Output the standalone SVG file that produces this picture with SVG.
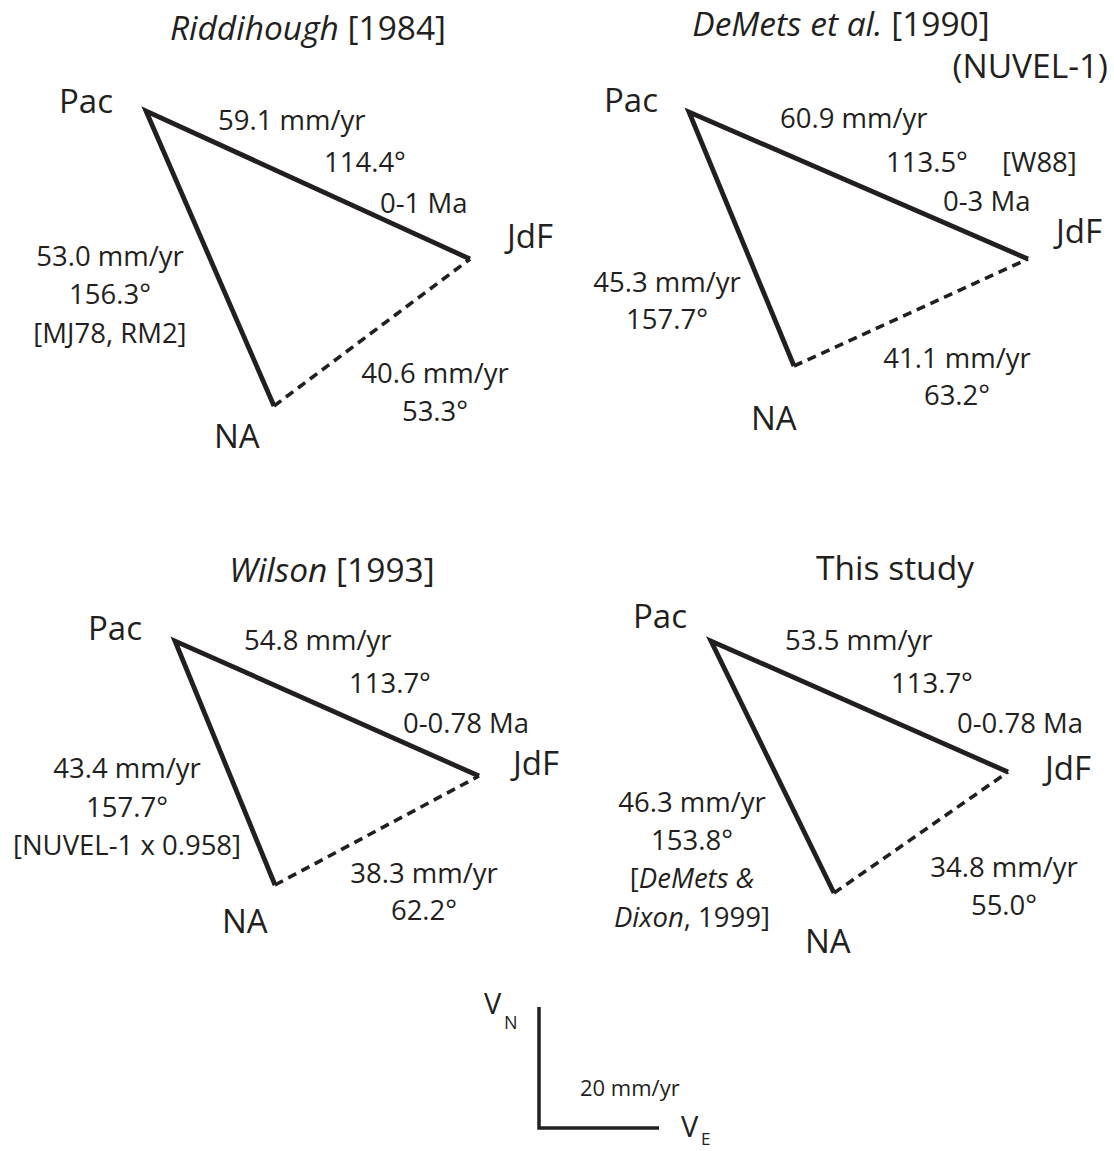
<svg xmlns="http://www.w3.org/2000/svg" width="1114" height="1151" viewBox="0 0 1114 1151">
<style>
text{font-family:"Open Sans","Liberation Sans",sans-serif;fill:#231f20}
.t{font-size:33.5px}
.n{font-size:33px}
.l{font-size:27.5px}
.m{text-anchor:middle}
.it{font-style:italic}
.s{fill:none;stroke:#231f20;stroke-width:4.8;stroke-linejoin:miter;stroke-linecap:butt}
.d{fill:none;stroke:#231f20;stroke-width:3.6;stroke-dasharray:9 6}
</style>
<rect width="1114" height="1151" fill="#fff"/>
<g id="connectors">
<polyline class="s" points="470,259 146,111 274,406"/>
<line class="d" x1="274" y1="406" x2="470" y2="259"/>
<polyline class="s" points="1028,259 689,112 794,366"/>
<line class="d" x1="794" y1="366" x2="1028" y2="259"/>
<polyline class="s" points="479,776 175,641 275,885"/>
<line class="d" x1="275" y1="885" x2="479" y2="776"/>
<polyline class="s" points="1008,772 711,641 834,893"/>
<line class="d" x1="834" y1="893" x2="1008" y2="772"/>
</g>
<g id="panel1">
<text class="t m" x="308" y="40"><tspan class="it">Riddihough</tspan> [1984]</text>
<g id="n1-pac"><text class="n" x="59" y="113">Pac</text></g>
<g id="n1-jdf"><text class="n" x="507" y="248">JdF</text></g>
<g id="n1-na"><text class="n" x="214" y="448">NA</text></g>
<text class="l" x="218" y="130">59.1 mm/yr</text>
<text class="l" x="324" y="172">114.4°</text>
<text class="l" x="380" y="213">0-1 Ma</text>
<text class="l m" x="110" y="266">53.0 mm/yr</text>
<text class="l m" x="110" y="304">156.3°</text>
<text class="l m" x="110" y="343">[MJ78, RM2]</text>
<text class="l m" x="435" y="383">40.6 mm/yr</text>
<text class="l m" x="435" y="421">53.3°</text>
</g>
<g id="panel2">
<text class="t m" x="841" y="36"><tspan class="it">DeMets et al.</tspan> [1990]</text>
<text class="t" x="1108" y="78" text-anchor="end">(NUVEL-1)</text>
<g id="n2-pac"><text class="n" x="604" y="112">Pac</text></g>
<g id="n2-jdf"><text class="n" x="1056" y="243">JdF</text></g>
<g id="n2-na"><text class="n" x="751" y="430">NA</text></g>
<text class="l" x="780" y="128">60.9 mm/yr</text>
<text class="l" x="886" y="172">113.5°</text>
<text class="l" x="1002" y="172">[W88]</text>
<text class="l" x="943" y="211">0-3 Ma</text>
<text class="l m" x="667" y="292">45.3 mm/yr</text>
<text class="l m" x="667" y="329">157.7°</text>
<text class="l m" x="957" y="368">41.1 mm/yr</text>
<text class="l m" x="957" y="405">63.2°</text>
</g>
<g id="panel3">
<text class="t m" x="332" y="582"><tspan class="it">Wilson</tspan> [1993]</text>
<g id="n3-pac"><text class="n" x="88" y="640">Pac</text></g>
<g id="n3-jdf"><text class="n" x="513" y="775">JdF</text></g>
<g id="n3-na"><text class="n" x="222" y="933">NA</text></g>
<text class="l" x="244" y="650">54.8 mm/yr</text>
<text class="l" x="349" y="693">113.7°</text>
<text class="l" x="403" y="733">0-0.78 Ma</text>
<text class="l m" x="127" y="778">43.4 mm/yr</text>
<text class="l m" x="127" y="817">157.7°</text>
<text class="l m" x="127" y="855">[NUVEL-1 x 0.958]</text>
<text class="l m" x="424" y="883">38.3 mm/yr</text>
<text class="l m" x="424" y="920">62.2°</text>
</g>
<g id="panel4">
<text class="t m" x="895" y="580">This study</text>
<g id="n4-pac"><text class="n" x="633" y="628">Pac</text></g>
<g id="n4-jdf"><text class="n" x="1045" y="780">JdF</text></g>
<g id="n4-na"><text class="n" x="805" y="953">NA</text></g>
<text class="l" x="785" y="650">53.5 mm/yr</text>
<text class="l" x="891" y="693">113.7°</text>
<text class="l" x="957" y="733">0-0.78 Ma</text>
<text class="l m" x="692" y="812">46.3 mm/yr</text>
<text class="l m" x="692" y="850">153.8°</text>
<text class="l m" x="692" y="888">[<tspan class="it">DeMets &amp;</tspan></text>
<text class="l m" x="692" y="927"><tspan class="it">Dixon</tspan>, 1999]</text>
<text class="l m" x="1004" y="877">34.8 mm/yr</text>
<text class="l m" x="1004" y="915">55.0°</text>
</g>
<g id="scale">
<polyline class="s" points="539,1007 539,1128 659,1128" style="stroke-width:3.5"/>
<text x="484" y="1014" style="font-size:29px">V</text>
<text x="504" y="1029" style="font-size:18px">N</text>
<text x="580" y="1096" style="font-size:22px">20 mm/yr</text>
<text x="681" y="1137" style="font-size:29px">V</text>
<text x="701" y="1145" style="font-size:17px">E</text>
</g>
</svg>
